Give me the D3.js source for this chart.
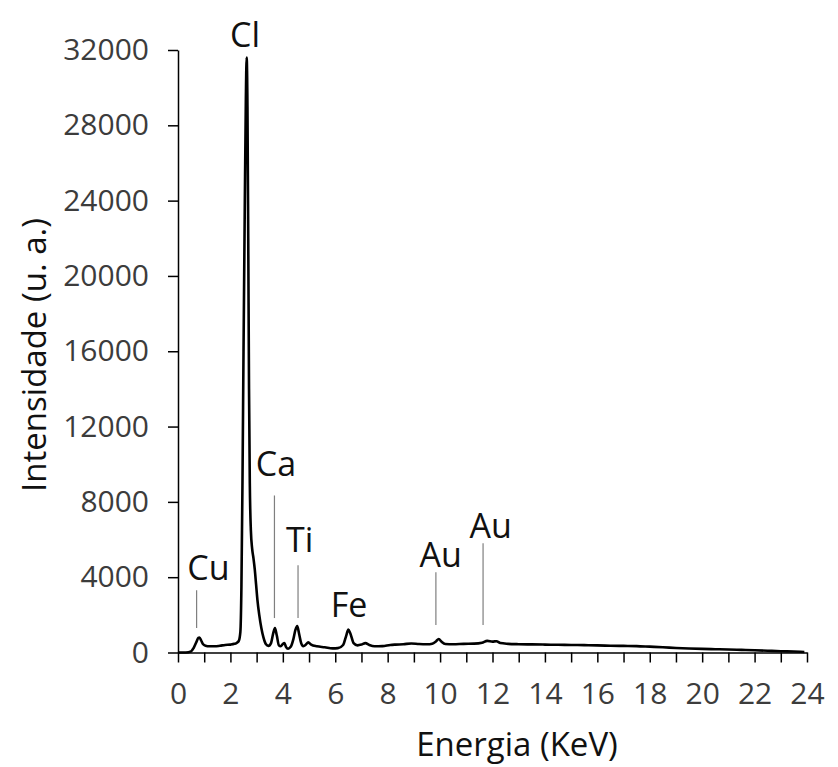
<!DOCTYPE html>
<html>
<head>
<meta charset="utf-8">
<script src="https://cdn.jsdelivr.net/npm/d3@7"></script>
<style>
  html, body { margin: 0; padding: 0; background: #fff; }
  svg { display: block; }
</style>
</head>
<body>
<svg id="chart" width="838" height="767"></svg>
<script>
// ---- Data ----
const energy = [0, 0.1, 0.3, 0.5, 0.6, 0.7, 0.78, 0.82, 0.88, 0.95, 1.05, 1.2, 1.4, 1.6, 1.8, 2.0, 2.15, 2.25, 2.32, 2.38, 2.42, 2.46, 2.5, 2.55, 2.59, 2.62, 2.65, 2.68, 2.71, 2.74, 2.78, 2.83, 2.88, 2.93, 2.98, 3.03, 3.1, 3.18, 3.26, 3.35, 3.45, 3.55, 3.63, 3.70, 3.77, 3.85, 3.92, 4.0, 4.06, 4.12, 4.2, 4.3, 4.4, 4.48, 4.55, 4.62, 4.7, 4.78, 4.88, 4.97, 5.08, 5.3, 5.6, 5.9, 6.1, 6.3, 6.42, 6.5, 6.58, 6.7, 6.85, 7.0, 7.15, 7.3, 7.5, 7.8, 8.1, 8.3, 8.6, 8.9, 9.2, 9.5, 9.7, 9.85, 9.95, 10.05, 10.2, 10.5, 10.9, 11.3, 11.6, 11.8, 12.0, 12.15, 12.3, 12.6, 13.0, 13.5, 14.0, 14.5, 15.0, 15.5, 16.0, 16.5, 17.0, 17.5, 18.0, 18.5, 19.0, 19.5, 20.0, 20.5, 21.0, 21.5, 22.0, 22.5, 23.0, 23.5, 23.9];
const intensity = [0, 0, 0, 60, 250, 550, 780, 800, 650, 450, 360, 330, 330, 360, 400, 420, 460, 520, 620, 1100, 3500, 9000, 16000, 24000, 29500, 31600, 29000, 22000, 14000, 9000, 6500, 5500, 5000, 4400, 3600, 2800, 2000, 1300, 800, 450, 350, 500, 1000, 1300, 900, 380, 330, 450, 500, 300, 200, 300, 700, 1200, 1400, 1000, 500, 340, 420, 540, 420, 330, 280, 220, 230, 400, 900, 1220, 1000, 500, 380, 420, 500, 400, 330, 340, 400, 420, 440, 480, 450, 440, 470, 600, 720, 580, 450, 440, 460, 470, 520, 620, 580, 600, 500, 460, 440, 430, 420, 410, 400, 390, 380, 360, 350, 340, 310, 280, 240, 210, 190, 175, 160, 140, 120, 95, 70, 50, 30];

const yTicks = [0, 4000, 8000, 12000, 16000, 20000, 24000, 28000, 32000];
const xTicks = d3.range(0, 25, 1);          // ticks every 1 keV
const xLabelStep = 2;                        // labels every 2 keV

// element annotations: label text, label anchor (energy, intensity), leader line energy & intensity range
const elemNames   = ["Cl", "Ca", "Ti", "Cu", "Fe", "Au", "Au"];
const elemLabelE  = [2.56, 3.74, 4.64, 1.16, 6.53, 10.02, 11.93];
const elemLabelI  = [32185, 9351, 5325, 3841, 1881, 4530, 6066];
const leaderE     = [null, 3.68, 4.58, 0.71, null, 9.84, 11.64];
const leaderTop   = [null, 8340, 4640, 3310, null, 4260, 5800];
const leaderBot   = [null, 1830, 1830, 1300, null, 1460, 1460];

const xTitle = "Energia (KeV)";
const yTitle = "Intensidade (u. a.)";

// ---- Drawing ----
const FONT = "'Open Sans', 'DejaVu Sans', sans-serif";
const svg = d3.select("#chart");

const x = d3.scaleLinear().domain([0, 24]).range([178, 807]);
const y = d3.scaleLinear().domain([0, 32000]).range([652.5, 50]);

// Y axis
const yAxis = d3.axisLeft(y).tickValues(yTicks).tickSize(10).tickSizeOuter(0).tickPadding(19)
  .tickFormat(d3.format("d"));
const gy = svg.append("g").attr("transform", `translate(${x(0)},0)`).call(yAxis);
gy.select(".domain").attr("stroke", "#000").attr("stroke-width", 1.5);
gy.selectAll(".tick line").attr("stroke", "#000").attr("stroke-width", 1.5);
gy.selectAll(".tick text").attr("font-family", FONT).attr("font-size", 30).attr("fill", "#3c3c3c");

// X axis
const xAxis = d3.axisBottom(x).tickValues(xTicks).tickSize(10).tickSizeOuter(0).tickPadding(20)
  .tickFormat(d => d % xLabelStep === 0 ? d : "");
const gx = svg.append("g").attr("transform", `translate(0,${y(0)})`).call(xAxis);
gx.select(".domain").attr("stroke", "#000").attr("stroke-width", 1.5);
gx.selectAll(".tick line").attr("stroke", "#000").attr("stroke-width", 1.5);
gx.selectAll(".tick text").attr("font-family", FONT).attr("font-size", 30).attr("fill", "#3c3c3c");

// Spectrum line
const pts = energy.map((e, i) => [e, intensity[i]]);
svg.append("path")
  .datum(pts)
  .attr("d", d3.line().x(d => x(d[0])).y(d => y(d[1])).curve(d3.curveMonotoneX))
  .attr("fill", "none")
  .attr("stroke", "#000")
  .attr("stroke-width", 2.6)
  .attr("stroke-linejoin", "round");

// Leader lines
elemNames.forEach((n, i) => {
  if (leaderE[i] === null) return;
  svg.append("line")
    .attr("x1", x(leaderE[i])).attr("x2", x(leaderE[i]))
    .attr("y1", y(leaderTop[i])).attr("y2", y(leaderBot[i]))
    .attr("stroke", "#7f7f7f").attr("stroke-width", 1.2);
});

// Element labels
elemNames.forEach((n, i) => {
  svg.append("text")
    .attr("x", x(elemLabelE[i])).attr("y", y(elemLabelI[i]))
    .attr("text-anchor", "middle")
    .attr("font-family", FONT).attr("font-size", 34).attr("fill", "#111")
    .text(n);
});

// Axis titles
svg.append("text")
  .attr("x", 517).attr("y", 756)
  .attr("text-anchor", "middle")
  .attr("font-family", FONT).attr("font-size", 33).attr("fill", "#111")
  .text(xTitle);

svg.append("text")
  .attr("transform", "translate(46,355) rotate(-90)")
  .attr("text-anchor", "middle")
  .attr("font-family", FONT).attr("font-size", 33).attr("fill", "#111")
  .text(yTitle);
</script>
</body>
</html>
